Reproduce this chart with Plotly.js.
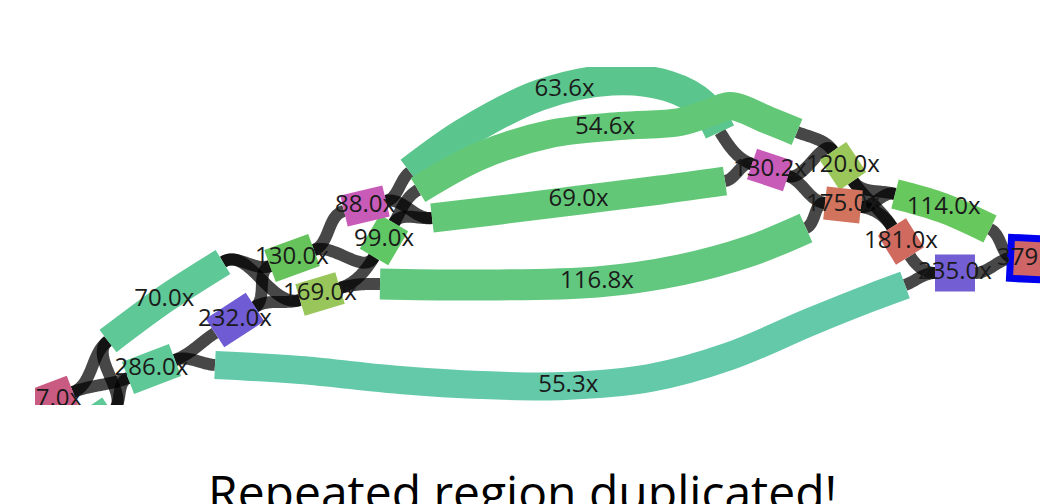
<!DOCTYPE html>
<html><head><meta charset="utf-8">
<script src="https://cdn.plot.ly/plotly-3.0.1.min.js"></script>
<style>html,body{margin:0;padding:0;background:#fff}#chart{width:1040px;height:504px}</style>
</head><body><div id="chart"></div>
<script>
// ---- data: assembly graph nodes (layout coordinates of each node's centre line) ----
const nodeNames = ['n87','nG','n70','n286','n232','n55','n130','n169','n99','n88','n63','n54','n69','n116','n1302','n120','n175','n181','n114','n235','n379'];
const coverage  = [87.0, null, 70.0, 286.0, 232.0, 55.3, 130.0, 169.0, 99.0, 88.0, 63.6, 54.6, 69.0, 116.8, 130.2, 120.0, 175.0, 181.0, 114.0, 235.0, 379.0];
const pathX = [
  [31,73],
  [88,112],
  [108,165,223],
  [128,175],
  [215,255],
  [215,300,400,480,565,650,730,810,870,905],
  [270,314],
  [300,340],
  [374,394],
  [344,386],
  [410,465,540,612,668,703,720],
  [418,480,550,620,680,712,730,770,797],
  [432,500,580,660,725],
  [380,480,597,680,750,806],
  [752,788],
  [833,853],
  [825,861],
  [892,910],
  [895,943,990],
  [935,975],
  [1014,1054]
];
const pathY = [
  [408,392],
  [428,412],
  [341,299,262],
  [378,360],
  [333,307],
  [365,370,380,385,386,378,356,322,298,285],
  [266,250],
  [300,288],
  [257,223],
  [211,201],
  [172,133,95,80,86,105,132],
  [190,156,134,126,122,112,106,121,132],
  [218,210,200,190,181],
  [284,285,282,270,251,228],
  [164,176],
  [151,181],
  [203,207],
  [227,256],
  [194,208,229],
  [273,273],
  [258,260]
];
// edges: from the end of one node to the start of the next
const edgeFrom = ['n87','n87','nG','nG','n286','n286','n70','n70','n232','n232','n130','n130','n169','n169','n88','n88','n99','n99','n63','n69','n54','n116','n1302','n1302','n120','n120','n175','n175','n181','n55','n114','n235'];
const edgeTo   = ['n70','n286','n70','n286','n232','n55','n130','n169','n130','n169','n88','n99','n99','n116','n63','n69','n54','n69','n1302','n1302','n120','n175','n120','n175','n114','n181','n114','n181','n235','n235','n379','n379'];
const titleText = 'Repeated region duplicated!';

// ---- styles ----
const nodeColor = ['#c95a82','#5fc897','#5fc897','#5fc897','#6f5bd3','#63c9a9','#66c35c','#98c65a','#5fc763','#c85ab8','#5ac68d','#62c877','#62c877','#62c87f','#c85ab8','#9bc65a','#d2735d','#d06a5f','#67c85e','#735ed3','#cf6566'];
const nodeWidth = [35,35,28,34,34,28,34,33,33,32,31,28,29,31,32,32,33,33,30,37,34];
const selected = {n379: {color:'#0000ee', pad:7}};
const drawOrder = ['n87','nG','n70','n286','n232','n55','n130','n169','n99','n88','n63','n54','n69','n116','n1302','n120','n175','n181','n114','n235','n379'];

const idx = n => nodeNames.indexOf(n);
function endInfo(i, which){
  const xs=pathX[i], ys=pathY[i], n=xs.length;
  let px,py,dx,dy;
  if(which==='end'){ px=xs[n-1]; py=ys[n-1]; dx=xs[n-1]-xs[n-2]; dy=ys[n-1]-ys[n-2]; }
  else { px=xs[0]; py=ys[0]; dx=xs[1]-xs[0]; dy=ys[1]-ys[0]; }
  const L=Math.hypot(dx,dy); return {x:px,y:py,dx:dx/L,dy:dy/L};
}
function midPoint(i){
  const xs=pathX[i], ys=pathY[i]; let tot=0; const seg=[];
  for(let k=1;k<xs.length;k++){ const l=Math.hypot(xs[k]-xs[k-1],ys[k]-ys[k-1]); seg.push(l); tot+=l; }
  let h=tot/2;
  for(let k=0;k<seg.length;k++){ if(h<=seg[k]){ const t=h/seg[k]; return [xs[k]+(xs[k+1]-xs[k])*t, ys[k]+(ys[k+1]-ys[k])*t]; } h-=seg[k]; }
  return [xs[xs.length-1], ys[ys.length-1]];
}

const traces = [];
// edges (cubic bezier leaving along node directions)
for(let e=0;e<edgeFrom.length;e++){
  const a=endInfo(idx(edgeFrom[e]),'end'), b=endInfo(idx(edgeTo[e]),'start');
  const d=Math.hypot(b.x-a.x,b.y-a.y); const k=Math.max(8,Math.min(30,0.35*d));
  const p1=[a.x+a.dx*k,a.y+a.dy*k], p2=[b.x-b.dx*k,b.y-b.dy*k];
  const xs=[],ys=[];
  for(let s=0;s<=30;s++){ const t=s/30,u=1-t;
    xs.push(u*u*u*a.x+3*u*u*t*p1[0]+3*u*t*t*p2[0]+t*t*t*b.x);
    ys.push(u*u*u*a.y+3*u*u*t*p1[1]+3*u*t*t*p2[1]+t*t*t*b.y); }
  traces.push({type:'scatter',mode:'lines',x:xs,y:ys,hoverinfo:'skip',
    line:{color:'rgba(0,0,0,0.72)',width:12,simplify:false}});
}
// nodes
drawOrder.forEach(name=>{
  const i=idx(name);
  const sel=selected[name];
  if(sel){
    const s=endInfo(i,'start'), en=endInfo(i,'end');
    traces.push({type:'scatter',mode:'lines',hoverinfo:'skip',
      x:[s.x-s.dx*sel.pad, en.x+en.dx*sel.pad], y:[s.y-s.dy*sel.pad, en.y+en.dy*sel.pad],
      line:{color:sel.color,width:nodeWidth[i]+2*sel.pad}});
  }
  traces.push({type:'scatter',mode:'lines',x:pathX[i],y:pathY[i],hoverinfo:'skip',
    line:{color:nodeColor[i],width:nodeWidth[i],shape:pathX[i].length>2?'spline':'linear',simplify:false}});
});
// labels
const lx=[],ly=[],lt=[];
nodeNames.forEach((n,i)=>{ if(coverage[i]===null) return; const m=midPoint(i); lx.push(m[0]); ly.push(m[1]); lt.push(coverage[i].toFixed(1)+'x'); });
traces.push({type:'scatter',mode:'text',x:lx,y:ly,text:lt,hoverinfo:'skip',
  textposition:'middle center',textfont:{family:'Open Sans, sans-serif',size:24,color:'#1a1a1a'}});

const layout = {
  width:1040,height:504,margin:{l:35,r:0,t:67,b:99,pad:0},
  paper_bgcolor:'#ffffff',plot_bgcolor:'#ffffff',showlegend:false,
  xaxis:{range:[35,1040],visible:false,fixedrange:true},
  yaxis:{range:[405,67],visible:false,fixedrange:true},
  annotations:[{text:titleText,xref:'paper',yref:'paper',x:(522-35)/1005,y:-0.154,
    xanchor:'center',yanchor:'top',showarrow:false,
    font:{family:'Open Sans, sans-serif',size:48,color:'#000000'}}]
};
Plotly.newPlot('chart',traces,layout,{displayModeBar:false,staticPlot:true});
</script></body></html>
